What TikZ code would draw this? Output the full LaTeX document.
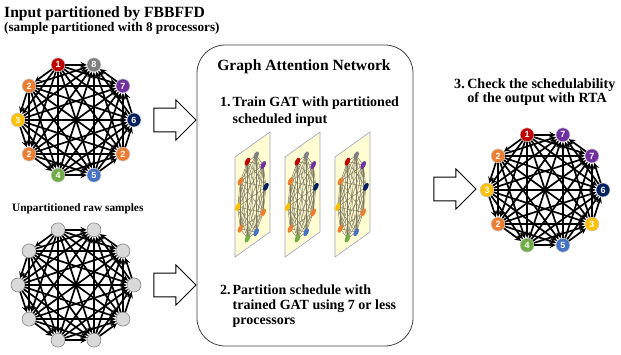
\documentclass[tikz,border=0pt]{standalone}
\usepackage{fontspec}
\setmainfont{Liberation Serif}
\setsansfont{Liberation Sans}
\usetikzlibrary{arrows, shapes.arrows}
\definecolor{pred}{HTML}{C00000}
\definecolor{porange}{HTML}{ED7D31}
\definecolor{pgold}{HTML}{FFC000}
\definecolor{pgreen}{HTML}{70AD47}
\definecolor{pblue}{HTML}{4472C4}
\definecolor{pnavy}{HTML}{002060}
\definecolor{ppurple}{HTML}{7030A0}
\definecolor{pgray}{HTML}{808080}
\definecolor{miniedge}{HTML}{7E7A62}
\tikzset{
x=1pt, y=1pt, % one unit is one pixel of the layout
>=stealth, % makes the arrow heads bold
task/.style={circle, draw=white!80!black, line width=0.6pt, minimum size=14pt, inner sep=0pt, text=white, font=\sffamily\bfseries\fontsize{9}{9}\selectfont}, % task on a processor
raw task/.style={circle, draw=gray, fill=gray!30, line width=0.6pt, minimum size=14pt, inner sep=0pt}, % task with no processor yet
task edge/.style={->, line width=1.7pt}, % dependency between tasks
mini edge/.style={draw=miniedge, line width=0.45pt}, % edges in the small pictures
panel/.style={fill=yellow!18, draw=blue!25!gray!60, line width=0.6pt}, % yellow sheet
block arrow/.style={single arrow, draw, line width=1pt, fill=white, minimum height=42pt, minimum width=40pt, inner sep=0pt, inner ysep=10pt}, % white arrow
gat box/.style={draw=black!75, line width=0.8pt, rounded corners=28pt, minimum width=216pt, minimum height=301pt}, % the network box
big title/.style={font=\rmfamily\bfseries\fontsize{15.6}{18}\selectfont, inner sep=0pt},
small title/.style={font=\rmfamily\bfseries\fontsize{13.2}{15}\selectfont, inner sep=0pt},
steptext/.style={inner sep=0pt, anchor=base west},
}

\begin{document}
\begin{tikzpicture}
\useasboundingbox (0,0) rectangle (621,354);

% titles on the left
\node[big title, anchor=base west] (ttl) at (4,336.7) {Input partitioned by FBBFFD};
\node[small title, anchor=base west] (sub) at (4,322.3) {(sample partitioned with 8 processors)};
\node[inner sep=0pt, anchor=base west, font=\rmfamily\bfseries\fontsize{11.3}{13}\selectfont] (raw) at (12,143) {Unpartitioned raw samples};

% partitioned input
\begin{scope}[shift={(76,234)}]
\foreach \lab/\col [count=\k] in {1/pred,2/porange,3/pgold,2/porange,4/pgreen,5/pblue,2/porange,6/pnavy,7/ppurple,8/pgray}
  \node[task, fill=\col] (a\k) at ({72+36*\k}:58) {\lab};
\end{scope}
\foreach \i in {1,...,9}{
  \pgfmathtruncatemacro{\nxt}{\i+1}
  \foreach \j in {\nxt,...,10}
    \draw[task edge] (a\i) -- (a\j);
}

% raw input
\begin{scope}[shift={(76,69)}]
\foreach \k in {1,...,10}
  \node[raw task] (b\k) at ({72+36*\k}:58) {};
\end{scope}
\foreach \i in {1,...,9}{
  \pgfmathtruncatemacro{\nxt}{\i+1}
  \foreach \j in {\nxt,...,10}
    \draw[task edge] (b\i) -- (b\j);
}

% output
\begin{scope}[shift={(545,164)}]
\foreach \lab/\col [count=\k] in {1/pred,2/porange,3/pgold,2/porange,4/pgreen,5/pblue,3/pgold,6/pnavy,7/ppurple,7/ppurple}
  \node[task, fill=\col] (c\k) at ({72+36*\k}:58) {\lab};
\end{scope}
\foreach \i in {1,...,9}{
  \pgfmathtruncatemacro{\nxt}{\i+1}
  \foreach \j in {\nxt,...,10}
    \draw[task edge] (c\i) -- (c\j);
}

% white arrows
\node[block arrow] (arr1) at (169,234) {};
\node[block arrow] (arr2) at (169,69) {};
\node[block arrow] (arr3) at (449,165) {};

% graph attention network
\node[gat box] (gat) at (305,158.5) {};
\node[big title, anchor=base] (gatttl) at (304,283.3) {Graph Attention Network};
\node[steptext, font=\rmfamily\bfseries\fontsize{14}{16.6}\selectfont] (st1) at (220,247.3)
  {\begin{tabular}[t]{@{}l@{\hspace{2pt}}l@{}}1.&Train GAT with partitioned\\&scheduled input\end{tabular}};
\node[steptext, font=\rmfamily\bfseries\fontsize{14}{15}\selectfont] (st2) at (220,60)
  {\begin{tabular}[t]{@{}l@{\hspace{2pt}}l@{}}2.&Partition schedule with\\&trained GAT using 7 or less\\&processors\end{tabular}};
\node[steptext, font=\rmfamily\bfseries\fontsize{14.1}{14.6}\selectfont] (st3) at (454,265.7)
  {\begin{tabular}[t]{@{}l@{\hspace{2.5pt}}l@{}}3.&Check the schedulability\\&of the output with RTA\end{tabular}};

% sheets with the learned graphs
\foreach \px [count=\p] in {235,285,335}{
  \begin{scope}[cm={35,25,0,100,(\px,97)}]
    \draw[panel] (0,0) -- (1,0) -- (1,1) -- (0,1) -- cycle;
    \foreach \k in {1,...,10}
      \coordinate (m\p-\k) at ({0.5+0.42*cos(72+36*\k)},{0.5+0.42*sin(72+36*\k)});
    \foreach \i in {1,...,9}{
      \pgfmathtruncatemacro{\nxt}{\i+1}
      \foreach \j in {\nxt,...,10}
        \draw[mini edge] (m\p-\i) -- (m\p-\j);
    }
    \foreach \col [count=\k] in {pred,porange,pgold,porange,pgreen,pblue,porange,pnavy,ppurple,pgray}
      \fill[\col] (m\p-\k) circle[x radius=0.08, y radius=0.035];
  \end{scope}
}
\end{tikzpicture}
\end{document}
